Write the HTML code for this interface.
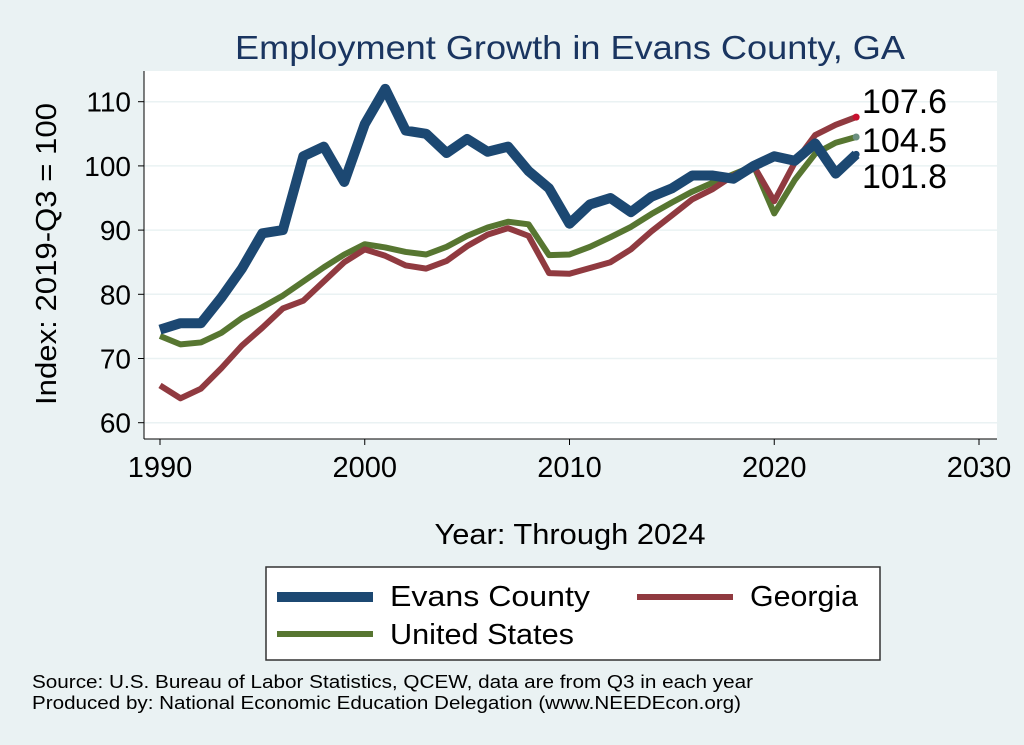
<!DOCTYPE html>
<html><head><meta charset="utf-8"><style>
body{margin:0;background:#eaf2f3;font-family:"Liberation Sans",sans-serif;}
svg{display:block}
</style></head><body>
<svg width="1024" height="745" xmlns="http://www.w3.org/2000/svg">
<rect width="1024" height="745" fill="#eaf2f3"/>
<text x="570" y="59" font-size="33" fill="#1a3560" text-anchor="middle" textLength="670" lengthAdjust="spacingAndGlyphs">Employment Growth in Evans County, GA</text>
<rect x="144" y="71" width="853" height="368" fill="#fff"/>
<g id="grid"></g>
<g id="axes"></g>
<g id="series"></g>
<text x="570" y="544" font-size="29" text-anchor="middle" textLength="271" lengthAdjust="spacingAndGlyphs">Year: Through 2024</text>
<text transform="translate(56,254) rotate(-90)" font-size="29" text-anchor="middle" textLength="302" lengthAdjust="spacingAndGlyphs">Index: 2019-Q3 = 100</text>
<g>
<rect x="266" y="567" width="614" height="93" fill="#fff" stroke="#333" stroke-width="1.5"/>
<line x1="277" y1="597" x2="373" y2="597" stroke="#1c4872" stroke-width="10"/>
<text x="390" y="606" font-size="29" textLength="200" lengthAdjust="spacingAndGlyphs">Evans  County</text>
<line x1="637" y1="597" x2="733" y2="597" stroke="#903a40" stroke-width="6"/>
<text x="750" y="606" font-size="29" textLength="108" lengthAdjust="spacingAndGlyphs">Georgia</text>
<line x1="277" y1="634" x2="373" y2="634" stroke="#577631" stroke-width="6"/>
<text x="390" y="644" font-size="29" textLength="184" lengthAdjust="spacingAndGlyphs">United States</text>
</g>
<text x="32" y="688" font-size="18" textLength="721" lengthAdjust="spacingAndGlyphs">Source: U.S. Bureau of Labor Statistics, QCEW, data are from Q3 in each year</text>
<text x="32" y="709" font-size="18" textLength="709" lengthAdjust="spacingAndGlyphs">Produced by: National Economic Education Delegation (www.NEEDEcon.org)</text>
</svg>
<script>
const years=[];for(let y=1990;y<=2024;y++)years.push(y);
const evans=[74.5,75.5,75.5,79.5,84,89.5,90,101.5,103,97.5,106.5,112,105.5,105,102,104.2,102.2,103,99.2,96.5,91,94,95,92.8,95.2,96.5,98.5,98.5,98,100,101.5,100.8,103.5,98.8,101.8];
const georgia=[65.8,63.8,65.3,68.5,72,74.8,77.8,79,82,85,87,86,84.5,84,85.2,87.5,89.3,90.3,89.1,83.3,83.2,84.1,85,87,89.8,92.3,94.8,96.4,98.5,100,94.5,100.5,104.8,106.4,107.6];
const us=[73.5,72.2,72.5,74,76.3,78,79.8,82,84.2,86.2,87.8,87.3,86.6,86.2,87.4,89.1,90.4,91.3,90.9,86.1,86.2,87.4,88.9,90.5,92.5,94.3,96,97.4,98.7,100,92.6,97.8,101.9,103.6,104.5];
const yTicks=[60,70,80,90,100,110];
const xTicks=[1990,2000,2010,2020,2030];
const NS="http://www.w3.org/2000/svg";
const X=v=>160+(v-1990)*20.475;
const Y=v=>101.7+(110-v)*6.42;
function mk(t,a,p){const e=document.createElementNS(NS,t);for(const k in a)e.setAttribute(k,a[k]);p.appendChild(e);return e;}
const grid=document.getElementById('grid'),axes=document.getElementById('axes'),ser=document.getElementById('series');
yTicks.forEach(v=>{
 const g=mk('line',{x1:144,x2:997,y1:Y(v),y2:Y(v),stroke:'#eaf2f3','stroke-width':1.5},grid);
 
 
 mk('line',{x1:138,x2:144,y1:Y(v),y2:Y(v),stroke:'#000','stroke-width':1},axes);
 const t=mk('text',{x:131,y:Y(v)+10,'font-size':28,'text-anchor':'end'},axes);t.textContent=v;
 
 
});
xTicks.forEach(v=>{
 mk('line',{x1:X(v),x2:X(v),y1:439,y2:445,stroke:'#000','stroke-width':1},axes);
 const t=mk('text',{x:X(v),y:477,'font-size':29,'text-anchor':'middle'},axes);t.textContent=v;
 
 
});
mk('line',{x1:144,x2:144,y1:71,y2:439,stroke:'#000','stroke-width':1},axes);
mk('line',{x1:144,x2:997,y1:439,y2:439,stroke:'#000','stroke-width':1},axes);
function line(arr,col,w,name,dot,ly){
 const p=mk('polyline',{points:arr.map((v,i)=>X(years[i])+','+Y(v)).join(' '),fill:'none',stroke:col,'stroke-width':w,'stroke-linejoin':'round'},ser);
 
 
 const last=arr[arr.length-1];
 const c=mk('circle',{cx:X(2024),cy:Y(last),r:3.5,fill:dot},ser);
 
 
 const t=mk('text',{x:862,y:ly,'font-size':34},ser);t.textContent=last.toFixed(1);
 
 
}
line(us,'#577631',6,'us-line','#6b8f80',152);
line(georgia,'#903a40',6,'georgia-line','#c8102e',113);
line(evans,'#1c4872',10,'evans-line','#1c4872',188);
</script>
</body></html>
